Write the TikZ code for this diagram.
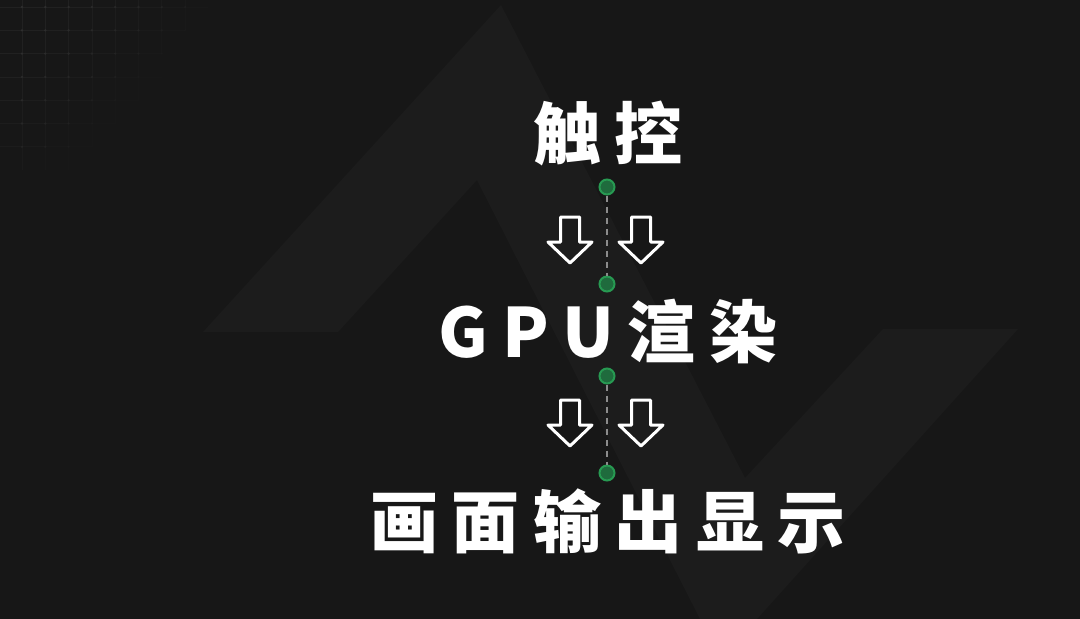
\documentclass[tikz,border=0pt]{standalone}
\usepackage{fontspec}
\newfontfamily\cjk{Noto Sans CJK SC}
\definecolor{bgc}{HTML}{171717}
\definecolor{shapec}{HTML}{1C1C1C}
\definecolor{gridc}{HTML}{212121}
\definecolor{griddot}{HTML}{2E2E2E}
\definecolor{dotfill}{HTML}{1F6B3D}
\definecolor{dotring}{HTML}{279A52}
\definecolor{dashc}{HTML}{8C8C8C}
\tikzset{
  titletext/.style={font=\cjk\bfseries\fontsize{68}{68}\selectfont\addfontfeatures{LetterSpace=20},text=white,inner sep=0pt,anchor=base},
  gdot/.style={circle,fill=dotfill,draw=dotring,line width=2pt,minimum size=15pt,inner sep=0pt},
  dashline/.style={draw=dashc,line width=1.4pt,dash pattern=on 6pt off 5pt},
  arrowline/.style={draw=white,line width=3pt,line join=round},
  hollowdown/.pic={\draw[arrowline] (-9.5,0) -- (9.5,0) -- (9.5,25) -- (22,25) -- (0,46) -- (-22,25) -- (-9.5,25) -- cycle;}
}
\begin{document}
\begin{tikzpicture}[x=1pt,y=-1pt]
\fill[bgc] (0,0) rectangle (1080,619);
\useasboundingbox (0,0) rectangle (1080,619);
% background band shape
\fill[shapec] (203,332) -- (501,5) -- (745,478) -- (883,329) -- (1018,329) -- (757,619) -- (700,619) -- (477,180) -- (338,332) -- cycle;
% faded grid, top left
\foreach \j in {0,...,6}{
  \foreach \k in {-1,...,7}{
    \pgfmathsetmacro{\op}{max(0,min(1,1.2-0.14*\k-0.13*\j))}
    \draw[gridc,line width=0.8pt,opacity=\op] ({22+23.3*\k},{7+23.3*\j}) -- ({22+23.3*(\k+1)},{7+23.3*\j});
  }
}
\foreach \i in {0,...,7}{
  \foreach \m in {-1,...,6}{
    \pgfmathsetmacro{\op}{max(0,min(1,1.2-0.14*\i-0.13*\m))}
    \draw[gridc,line width=0.8pt,opacity=\op] ({22+23.3*\i},{7+23.3*\m}) -- ({22+23.3*\i},{7+23.3*(\m+1)});
  }
}
\foreach \i in {0,...,7}{
  \foreach \j in {0,...,6}{
    \pgfmathsetmacro{\op}{max(0,min(1,1.2-0.14*\i-0.13*\j))}
    \fill[griddot,opacity=\op] ({22+23.3*\i},{7+23.3*\j}) circle (1.3pt);
  }
}
% titles
\node[titletext] (t1) at (608,159) {触控};
\node[titletext] (t2) at (608,357) {GPU渲染};
\node[titletext] (t3) at (608,547) {画面输出显示};
% dots
\node[gdot] (d1) at (607,187) {};
\node[gdot] (d2) at (607,284) {};
\node[gdot] (d3) at (607,376) {};
\node[gdot] (d4) at (607,473) {};
\draw[dashline] (d1) -- (d2);
\draw[dashline] (d3) -- (d4);
% hollow arrows
\pic at (570,217) {hollowdown};
\pic at (641,217) {hollowdown};
\pic at (570,400) {hollowdown};
\pic at (641,400) {hollowdown};
\end{tikzpicture}
\end{document}
